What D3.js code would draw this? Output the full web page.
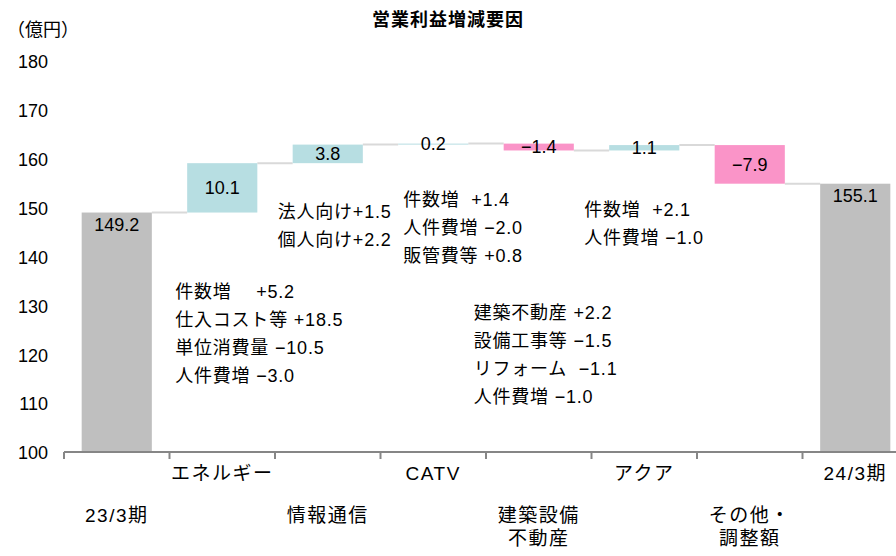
<!DOCTYPE html>
<html>
<head>
<meta charset="utf-8">
<script src="https://cdn.jsdelivr.net/npm/d3@7"></script>
<style>
  html, body { margin: 0; padding: 0; background: #fff; }
  svg { display: block; font-family: "Liberation Sans", "Noto Sans CJK JP", sans-serif; }
  .note text, .cat text { white-space: pre; }
</style>
</head>
<body>
<svg id="chart" width="896" height="556"></svg>
<script>
// categories along the x axis (\n = line break)
var categories = ['23/3期', 'エネルギー', '情報通信', 'CATV', '建築設備\n不動産', 'アクア', 'その他・\n調整額', '24/3期'];
// 'total' bars start from the axis, 'delta' bars float
var kinds  = ['total', 'delta', 'delta', 'delta', 'delta', 'delta', 'delta', 'total'];
var values = [149.2, 10.1, 3.8, 0.2, -1.4, 1.1, -7.9, 155.1];
var yTicks = [100, 110, 120, 130, 140, 150, 160, 170, 180];

// breakdown notes per segment
var notesEnergy = ['件数増　 +5.2', '仕入コスト等 +18.5', '単位消費量 −10.5', '人件費増 −3.0'];
var notesInfo   = ['法人向け+1.5', '個人向け+2.2'];
var notesCatv   = ['件数増  +1.4', '人件費増 −2.0', '販管費等 +0.8'];
var notesBuild  = ['建築不動産 +2.2', '設備工事等 −1.5', 'リフォーム  −1.1', '人件費増 −1.0'];
var notesAqua   = ['件数増  +2.1', '人件費増 −1.0'];

var COLOR_TOTAL = '#bfbfbf',
    COLOR_UP    = '#b7dee2',
    COLOR_DOWN  = '#fa94c8',
    COLOR_LINK  = '#d9d9d9',
    COLOR_AXIS  = '#868686',
    FONT_SIZE   = 18;

var svg = d3.select('#chart');

var x = d3.scaleBand()
    .domain(categories)
    .range([64, 908])
    .paddingInner(0.335)
    .paddingOuter(0.1675);

var y = d3.scaleLinear()
    .domain([100, 180])
    .range([453, 62]);

// running totals -> bar extents
var running = 0;
var bars = values.map(function(v, i) {
  var lo, hi, end;
  if (kinds[i] === 'total') {
    lo = 100; hi = v; end = v; running = v;
  } else {
    var start = running;
    running = +(running + v).toFixed(1);
    lo = Math.min(start, running); hi = Math.max(start, running); end = running;
  }
  return { cat: categories[i], kind: kinds[i], value: v, lo: lo, hi: hi, end: end };
});

// title + unit
svg.append('text')
  .attr('x', 448).attr('y', 26)
  .attr('text-anchor', 'middle')
  .attr('font-size', 18).attr('font-weight', 'bold')
  .attr('letter-spacing', 1)
  .text('営業利益増減要因');

svg.append('text')
  .attr('x', 7).attr('y', 36)
  .attr('font-size', FONT_SIZE)
  .text('（億円）');

// y tick labels (no axis line)
svg.append('g').selectAll('text')
  .data(yTicks)
  .enter().append('text')
    .attr('x', 48)
    .attr('y', function(d) { return y(d); })
    .attr('dy', '0.35em')
    .attr('text-anchor', 'end')
    .attr('font-size', FONT_SIZE)
    .text(function(d) { return d; });

// connector lines between bars
svg.append('g').selectAll('line')
  .data(bars.slice(0, -1))
  .enter().append('line')
    .attr('x1', function(d) { return x(d.cat) + x.bandwidth(); })
    .attr('x2', function(d, i) { return x(categories[i + 1]); })
    .attr('y1', function(d) { return y(d.end); })
    .attr('y2', function(d) { return y(d.end); })
    .attr('stroke', COLOR_LINK)
    .attr('stroke-width', 2);

// bars
svg.append('g').selectAll('rect')
  .data(bars)
  .enter().append('rect')
    .attr('x', function(d) { return x(d.cat); })
    .attr('width', x.bandwidth())
    .attr('y', function(d) { return y(d.hi); })
    .attr('height', function(d) { return Math.max(1, y(d.lo) - y(d.hi)); })
    .attr('fill', function(d) {
      if (d.kind === 'total') return COLOR_TOTAL;
      return d.value < 0 ? COLOR_DOWN : COLOR_UP;
    });

// value labels
svg.append('g').selectAll('text')
  .data(bars)
  .enter().append('text')
    .attr('x', function(d) { return x(d.cat) + x.bandwidth() / 2; })
    .attr('y', function(d) {
      return d.kind === 'total' ? y(d.hi) + 12 : (y(d.hi) + y(d.lo)) / 2;
    })
    .attr('dy', '0.35em')
    .attr('text-anchor', 'middle')
    .attr('font-size', FONT_SIZE)
    .text(function(d) {
      return d.value < 0 ? '−' + Math.abs(d.value).toFixed(1) : d.value.toFixed(1);
    });

// x axis
var axisY = 452;
svg.append('line')
  .attr('x1', 64).attr('x2', 908)
  .attr('y1', axisY).attr('y2', axisY)
  .attr('stroke', COLOR_AXIS).attr('stroke-width', 2);

var step = x.step();
svg.append('g').selectAll('line')
  .data(categories)
  .enter().append('line')
    .attr('x1', function(d) { return x(d) - (step - x.bandwidth()) / 2; })
    .attr('x2', function(d) { return x(d) - (step - x.bandwidth()) / 2; })
    .attr('y1', axisY).attr('y2', axisY + 7)
    .attr('stroke', COLOR_AXIS).attr('stroke-width', 2);

// category labels, alternating rows
var cat = svg.append('g').attr('class', 'cat').selectAll('text')
  .data(categories)
  .enter().append('text')
    .attr('x', function(d) { return x(d) + x.bandwidth() / 2; })
    .attr('y', function(d, i) { return i % 2 ? 480 : 522; })
    .attr('dy', '0.35em')
    .attr('text-anchor', 'middle')
    .attr('font-size', 19)
    .attr('letter-spacing', 1.5);

cat.selectAll('tspan')
  .data(function(d) { return d.split('\n'); })
  .enter().append('tspan')
    .attr('x', function() { return d3.select(this.parentNode).attr('x'); })
    .attr('dy', function(d, i) { return i ? 23 : 0; })
    .text(function(d) { return d; });

// breakdown notes: first line centred on value `top`
var notePlacement = [
  { lines: notesEnergy, cat: categories[1], dx: -12, top: 133.1 },
  { lines: notesInfo,   cat: categories[2], dx: -15, top: 149.3 },
  { lines: notesCatv,   cat: categories[3], dx: 5,   top: 151.8 },
  { lines: notesBuild,  cat: categories[4], dx: -30, top: 128.8 },
  { lines: notesAqua,   cat: categories[5], dx: -25, top: 149.7 }
];

var notes = svg.append('g').attr('class', 'note').selectAll('text')
  .data(notePlacement)
  .enter().append('text')
    .attr('x', function(d) { return x(d.cat) + d.dx; })
    .attr('y', function(d) { return y(d.top); })
    .attr('font-size', FONT_SIZE)
    .attr('letter-spacing', 0.8);

notes.selectAll('tspan')
  .data(function(d) { return d.lines.map(function(l) { return { text: l, x: x(d.cat) + d.dx }; }); })
  .enter().append('tspan')
    .attr('x', function(d) { return d.x; })
    .attr('dy', function(d, i) { return i ? 28 : '0.35em'; })
    .text(function(d) { return d.text; });
</script>
</body>
</html>
